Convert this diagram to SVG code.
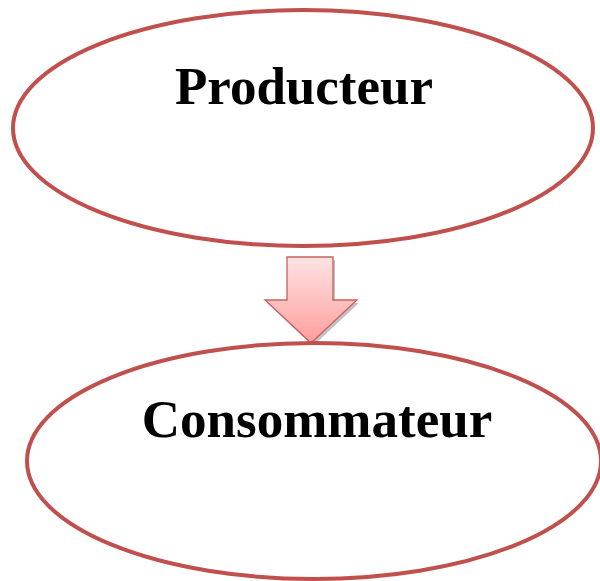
<svg xmlns="http://www.w3.org/2000/svg" width="600" height="581" viewBox="0 0 600 581">
<style>
.node ellipse{fill:#fff;stroke:#c0504d;stroke-width:4}
.lbl{font-family:"Liberation Serif","Times New Roman",serif;font-weight:bold;font-size:53px;fill:#000;text-anchor:middle}
</style>
<defs>
<linearGradient id="g" x1="0" y1="0" x2="0" y2="1">
<stop offset="0" stop-color="#ffe3e3"/>
<stop offset="1" stop-color="#ff9e9e"/>
</linearGradient>
</defs>
<rect width="600" height="581" fill="#fff"/>
<g id="producteur" class="node">
<ellipse cx="303" cy="128" rx="290" ry="118"/>
<text class="lbl" x="304" y="104">Producteur</text>
</g>
<g id="connectors">
<path d="M289,260 H335 V303 H359 L313,346 L267,303 H291 Z" fill="#888" opacity="0.5"/>
<path d="M287,257 H333 V300 H357 L311,343 L265,300 H287 Z" fill="url(#g)" stroke="#c9605c" stroke-width="1.3" stroke-linejoin="miter"/>
</g>
<g id="consommateur" class="node">
<ellipse cx="314" cy="461" rx="287" ry="118"/>
<text class="lbl" x="317" y="437">Consommateur</text>
</g>
</svg>
